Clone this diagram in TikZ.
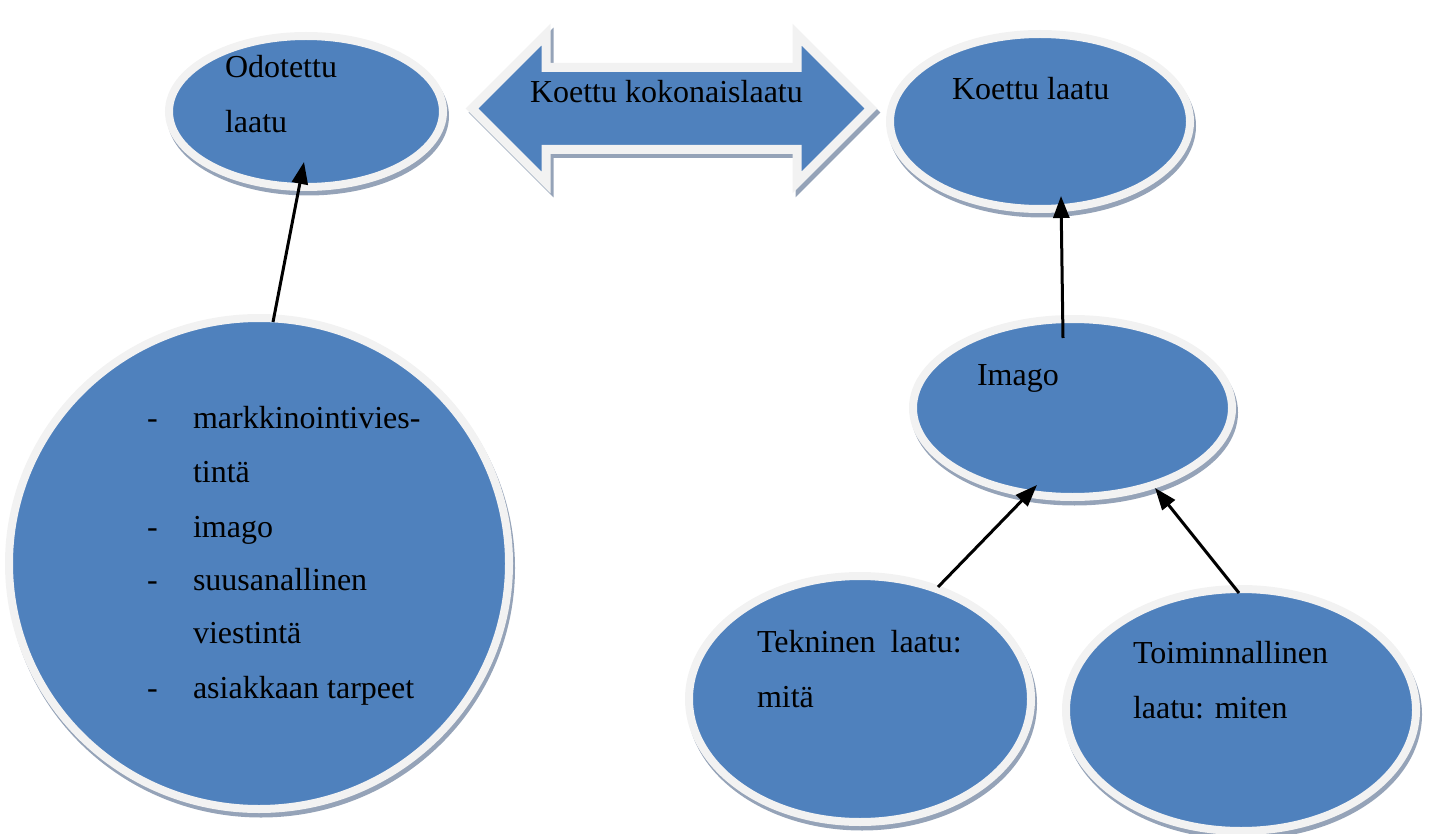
\documentclass[tikz,border=0pt]{standalone}
\usepackage{fontspec}
\setmainfont{Liberation Serif}
\usetikzlibrary{shapes.geometric,shadows,arrows.meta,calc}
\definecolor{myblue}{HTML}{4F81BD}
\definecolor{myband}{HTML}{F2F2F2}
\definecolor{myshadow}{HTML}{95A3B8}
\begin{document}
\begin{tikzpicture}[x=1pt,y=-1pt,
  blob/.style={ellipse, fill=myblue, draw=myband, line width=8pt, inner sep=0pt, outer sep=0pt,
    drop shadow={shadow xshift=2pt, shadow yshift=-4.5pt, fill=myshadow, draw=myshadow, line width=8pt, opacity=1}},
  arrowshape/.style={fill=myblue, draw=myband, line width=9pt, line join=miter,
    drop shadow={shadow xshift=3pt, shadow yshift=-4pt, fill=myshadow, draw=myshadow, line width=9pt, opacity=1}},
  txt/.style={anchor=base west, inner sep=0pt, outer sep=0pt, font=\fontsize{32pt}{38pt}\selectfont},
  conn/.style={line width=3pt, -{Triangle[length=22pt,width=16pt]}}]
\useasboundingbox (0,0) rectangle (1432,834);

% double arrow
\path[arrowshape] (472,108.5) -- (546,34.5) -- (546,67.5) -- (797,67.5) -- (797,34.5) -- (871,108.5)
  -- (797,182.5) -- (797,149.5) -- (546,149.5) -- (546,182.5) -- cycle;

% ellipses
\node[blob, minimum width=274pt, minimum height=151pt] (odo) at (306,111.5) {};
\node[blob, minimum width=300pt, minimum height=175pt] (koe) at (1040,121.5) {};
\node[blob, minimum width=500pt, minimum height=491pt] (big) at (259,563.5) {};
\node[blob, minimum width=319pt, minimum height=178pt] (ima) at (1072.5,408) {};
\node[blob, minimum width=342pt, minimum height=246pt] (tek) at (860,699) {};
\node[blob, minimum width=350pt, minimum height=242pt] (toi) at (1241,710) {};

% texts
\node[txt] (kk) at (530,103) {Koettu kokonaislaatu};
\node[txt] (odo1) at (225,78) {Odotettu};
\node[txt] (odo2) at (225,133) {laatu};
\node[txt] (koe1) at (952,100) {Koettu laatu};
\node[txt] (ima1) at (977,385) {Imago};
\node[txt] (tek1) at (757,652) {Tekninen\hspace{15pt}laatu:};
\node[txt] (tek2) at (757,707) {mitä};
\node[txt] (toi1) at (1133,663) {Toiminnallinen};
\node[txt] (toi2) at (1133,718) {laatu: miten};

\node[txt] (d1) at (147,428) {-};
\node[txt] (b1) at (193,428) {markkinointivies-};
\node[txt] (b2) at (193,482) {tintä};
\node[txt] (d2) at (147,537) {-};
\node[txt] (b3) at (193,537) {imago};
\node[txt] (d3) at (147,590) {-};
\node[txt] (b4) at (193,590) {suusanallinen};
\node[txt] (b5) at (193,643) {viestintä};
\node[txt] (d4) at (147,698) {-};
\node[txt] (b6) at (193,698) {asiakkaan tarpeet};

% connectors
\draw[conn] ($(big.center)+(14,-241.5)$) -- ($(odo.center)+(-2,50.5)$);
\draw[conn] ($(ima.center)+(-9.5,-70)$) -- ($(koe.center)+(21,74.5)$);
\draw[conn] ($(tek.center)+(78,-112)$) -- ($(ima.center)+(-35.5,77)$);
\draw[conn] ($(toi.center)+(-2,-117)$) -- ($(ima.center)+(82.5,80)$);
\end{tikzpicture}
\end{document}
